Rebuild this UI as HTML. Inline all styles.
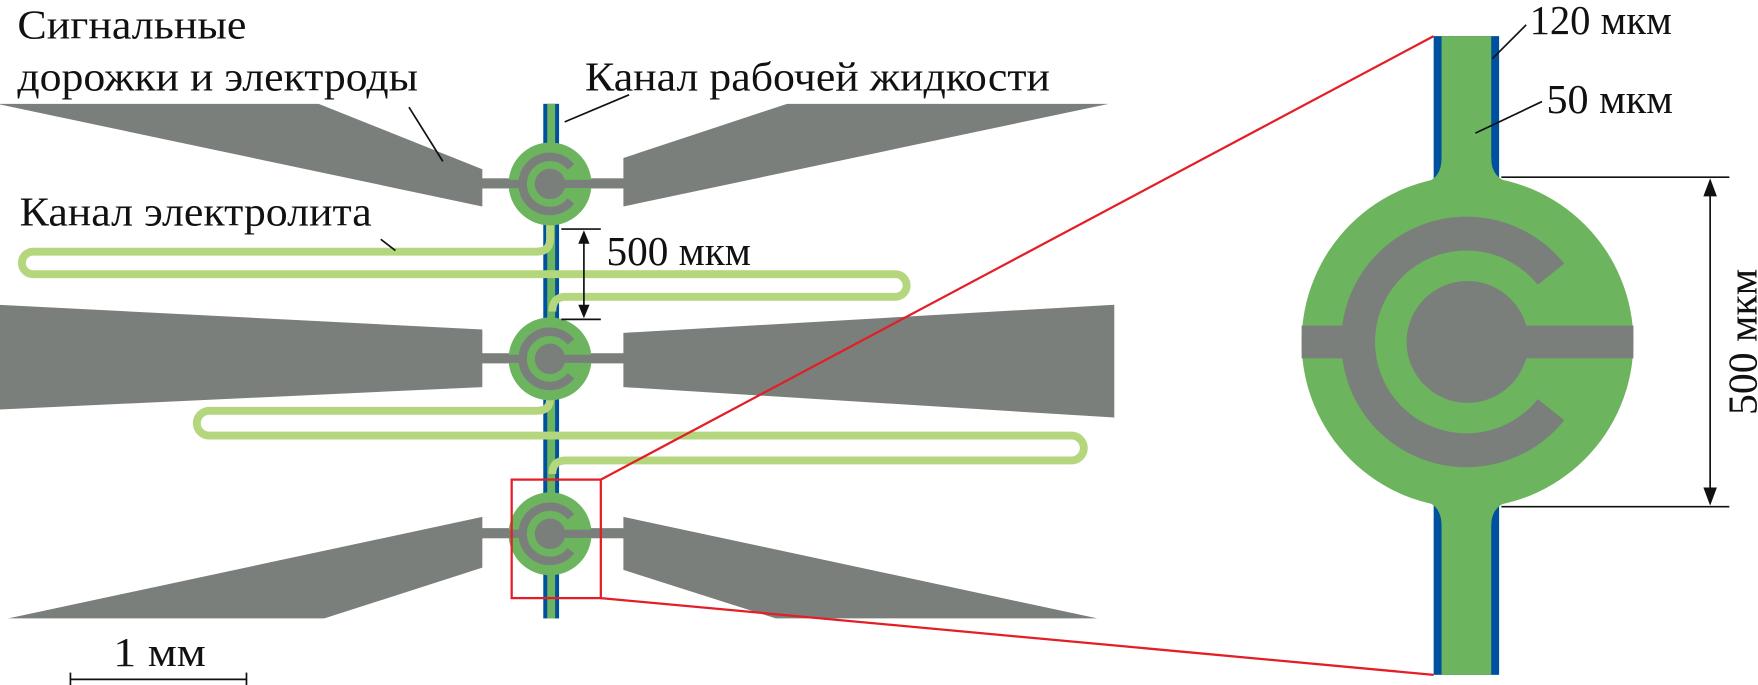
<!DOCTYPE html>
<html><head><meta charset="utf-8"><style>
html,body{margin:0;padding:0;background:#fff}
svg{display:block}
text{font-family:"Liberation Serif",serif;fill:#111}
</style></head><body>
<svg width="1758" height="685" viewBox="0 0 1557 607" xmlns="http://www.w3.org/2000/svg">
<defs>
<g id="el">
<circle r="147" fill="#6cb45e"/>
<path d="M74,-60 A96,96 0 1 0 74,60" fill="none" stroke="#7a7f7c" stroke-width="30"/>
<circle r="54" fill="#7a7f7c"/>
<rect x="-147" y="-14.5" width="52" height="29" fill="#7a7f7c"/>
<rect x="0" y="-14.5" width="147" height="29" fill="#7a7f7c"/>
</g>
</defs>

<g transform="translate(-3,0)">
<!-- pads -->
<g fill="#7a7f7c">
<polygon points="0,92 285,92 430,150 430,183"/>
<polygon points="555,140 700,92 985,92 555,183"/>
<polygon points="0,270 430,292 430,343 0,363"/>
<polygon points="555,295 990,270 990,370 555,343"/>
<polygon points="430,458 430,503 290,548 10,548"/>
<polygon points="555,458 555,505 690,548 975,548"/>
<rect x="428" y="158" width="129" height="9"/>
<rect x="428" y="313" width="129" height="9"/>
<rect x="428" y="468" width="129" height="9"/>
</g>

<!-- small channel -->
<rect x="484" y="92" width="14" height="456" fill="#0050a0"/>
<rect x="487.5" y="92" width="7" height="456" fill="#6cb45e"/>

<!-- electrolyte serpentines -->
<g fill="none" stroke="#b4d67c" stroke-width="7">
<path d="M490,198 L490,212 Q490,223 478,223 L32,223 A10,10 0 0 0 32,243 L796,243 A10,10 0 0 1 796,263 L504,263 Q492,263 492,276"/>
<path d="M490,352 L490,354 Q490,364 478,364 L188,364 A11,11 0 0 0 188,386 L952,386 A11,11 0 0 1 952,408 L504,408 Q492,408 492,420"/>
</g>

<use href="#el" transform="translate(490,163) scale(0.25)"/>
<use href="#el" transform="translate(490,318) scale(0.25)"/>
<use href="#el" transform="translate(490,473) scale(0.25)"/>

<g stroke="#111" stroke-width="1.5" fill="none">
<line x1="500" y1="203" x2="535" y2="203"/>
<line x1="500" y1="283" x2="535" y2="283"/>
<line x1="520" y1="212" x2="520" y2="274"/>
</g>
<g fill="#111">
<polygon points="520,204 515,216 525,216"/>
<polygon points="520,282 515,270 525,270"/>
</g>
</g>

<!-- red zoom -->
<g stroke="#e41e26" fill="none" stroke-width="2">
<rect x="453" y="425" width="79" height="105"/>
<line x1="532" y1="425" x2="1270" y2="32"/>
<line x1="532" y1="530" x2="1270" y2="598"/>
</g>

<!-- big panel -->
<g transform="translate(-7,0)">
<rect x="1277" y="32" width="58" height="130" fill="#0050a0"/>
<rect x="1277" y="444" width="58" height="154" fill="#0050a0"/>
<rect x="1284" y="32" width="44" height="566" fill="#6cb45e"/>
<path d="M1284,140 Q1284,158 1269,162 L1345,162 Q1328,158 1328,140 Z" fill="#6cb45e"/>
<path d="M1284,466 Q1284,448 1269,444 L1345,444 Q1328,448 1328,466 Z" fill="#6cb45e"/>
<use href="#el" transform="translate(1307,303)"/>
</g>

<!-- dimensions -->
<g stroke="#111" stroke-width="1.5" fill="none">
<line x1="1330" y1="157" x2="1532" y2="157"/>
<line x1="1330" y1="449" x2="1532" y2="449"/>
<line x1="1515" y1="165" x2="1515" y2="441"/>
<line x1="62" y1="602" x2="218" y2="602"/>
<line x1="62" y1="596" x2="62" y2="607"/>
<line x1="218" y1="596" x2="218" y2="607"/>
<line x1="362" y1="95" x2="392" y2="143"/>
<line x1="557" y1="84" x2="500" y2="108"/>
<line x1="337" y1="212" x2="350" y2="222"/>
<line x1="1352" y1="22" x2="1322" y2="52"/>
<line x1="1366" y1="90" x2="1307" y2="118"/>
</g>
<g fill="#111">
<polygon points="1515,158 1509,174 1521,174"/>
<polygon points="1515,448 1509,432 1521,432"/>
</g>

<g font-size="37">
<text x="15" y="34" textLength="203" lengthAdjust="spacingAndGlyphs">Сигнальные</text>
<text x="15" y="80" textLength="355" lengthAdjust="spacingAndGlyphs">дорожки и электроды</text>
<text x="518" y="80" textLength="412" lengthAdjust="spacingAndGlyphs">Канал рабочей жидкости</text>
<text x="17" y="200" textLength="312" lengthAdjust="spacingAndGlyphs">Канал электролита</text>
<text x="537" y="235" textLength="128" lengthAdjust="spacingAndGlyphs">500 мкм</text>
<text x="100" y="590" textLength="82" lengthAdjust="spacingAndGlyphs">1 мм</text>
<text x="1355" y="30" textLength="126" lengthAdjust="spacingAndGlyphs">120 мкм</text>
<text x="1370" y="100" textLength="112" lengthAdjust="spacingAndGlyphs">50 мкм</text>
<text transform="translate(1556,303) rotate(-90)" text-anchor="middle">500 мкм</text>
</g>
</svg>
</body></html>
